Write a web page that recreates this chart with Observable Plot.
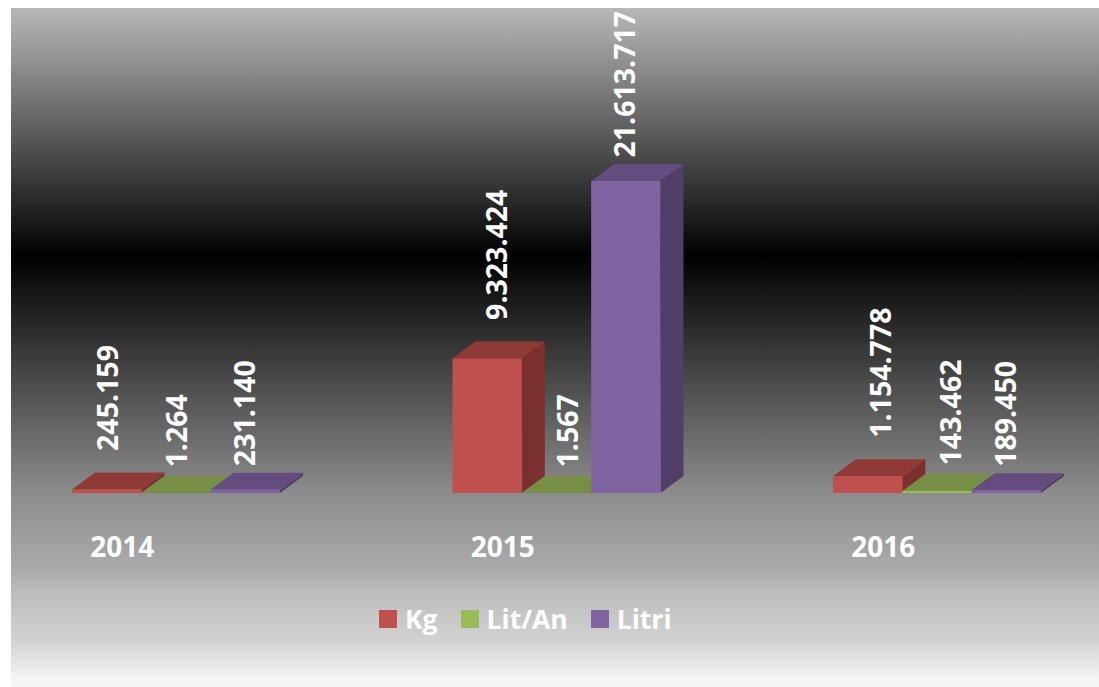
<!DOCTYPE html>
<html>
<head>
<meta charset="utf-8">
<script src="https://cdn.jsdelivr.net/npm/d3@7"></script>
<script src="https://cdn.jsdelivr.net/npm/@observablehq/plot@0.6"></script>
<style>
  html, body { margin: 0; padding: 0; background: #fff; }
  body { width: 1099px; height: 687px; overflow: hidden; position: relative; font-family: "Open Sans", sans-serif; }
  #panel {
    position: absolute; left: 11px; top: 8px; width: 1088px; height: 679px;
    background: linear-gradient(to bottom,
      #b8b8b8 0px, #4f4f4f 142px, #000000 248px, #2c2c2c 322px,
      #8c8c8c 485px, #ababab 562px, #bbbbbb 582px, #d2d2d2 632px, #f5f5f5 672px);
  }
  #chart { position: absolute; left: 0; top: 0; }
  #chart svg { display: block; background: transparent; }
  #legend {
    position: absolute; left: 379px; top: 600px; display: flex; gap: 23px; align-items: center;
    color: #fff; font-weight: 700; font-size: 26.5px; line-height: 38px;
  }
  #legend .item { display: flex; align-items: center; gap: 8px; }
  #legend .swatch { width: 18px; height: 18px; display: block; }
</style>
</head>
<body>
<div id="panel"></div>
<div id="chart"></div>
<div id="legend"></div>
<script>
const years = ["2014", "2015", "2016"];
const seriesNames = ["Kg", "Lit/An", "Litri"];
const kg = [245159, 9323424, 1154778];
const litAn = [1264, 1567, 143462];
const litri = [231140, 21613717, 189450];

const frontColors = ["#c0504d", "#9bbb59", "#8064a2"];
const topColors = ["#903a38", "#768f44", "#634d7e"];
const sideColors = ["#7b302e", "#5f7535", "#523f68"];

const seriesValues = [kg, litAn, litri];
const rows = seriesNames.flatMap((series, s) =>
  years.map((year, y) => ({year, series, value: seriesValues[s][y]}))
);

const locale = d3.formatLocale({decimal: ",", thousands: ".", grouping: [3], currency: ["", ""]});
const fmt = locale.format(",d");

const depthX = 23, depthY = 17;

function extrude(index, scales, values, dimensions, context, next) {
  const g = next(index, scales, values, dimensions, context);
  const rects = g.querySelectorAll("rect");
  const w = scales.x.bandwidth();
  Array.from(index).forEach((i, k) => {
    const x0 = values.x[i], x1 = x0 + w;
    const yTop = Math.min(values.y1[i], values.y2[i]);
    const yBase = Math.max(values.y1[i], values.y2[i]);
    const s = seriesNames.indexOf(rows[i].series);
    const add = (pts, fill) => {
      const p = document.createElementNS("http://www.w3.org/2000/svg", "polygon");
      p.setAttribute("points", pts.map(d => d.join(",")).join(" "));
      p.setAttribute("fill", fill);
      rects[k].parentNode.insertBefore(p, rects[k]);
    };
    add([[x1, yTop], [x1 + depthX, yTop - depthY], [x1 + depthX, yBase - depthY], [x1, yBase]], sideColors[s]);
    add([[x0, yTop], [x0 + depthX, yTop - depthY], [x1 + depthX, yTop - depthY], [x1, yTop]], topColors[s]);
  });
  return g;
}

// Data-label placement, as the original chart has it: a few labels were nudged sideways.
const labelDy = {"Kg": -39, "Lit/An": -26, "Litri": -24};
const labelDx = {"2014|Kg": 1.5, "2014|Lit/An": 1, "2015|Kg": 10, "2015|Lit/An": 12, "2016|Kg": 14, "2016|Lit/An": 14};

const labelMarks = rows.map(d => Plot.text([d], {
  fx: "year", x: "series", y: "value",
  text: r => fmt(r.value),
  rotate: -90, textAnchor: "start", lineAnchor: "middle",
  dx: labelDx[d.year + "|" + d.series] || 0,
  dy: labelDy[d.series],
  fill: "#fff", fontSize: 28.5, fontWeight: 700, fontFamily: "Open Sans"
}));

const chart = Plot.plot({
  width: 1099,
  height: 590,
  marginLeft: 0, marginRight: 0, marginTop: 0, marginBottom: 97,
  style: {background: "transparent", overflow: "visible"},
  fx: {domain: years, range: [-14, 1127.5], padding: 0, round: false, axis: null},
  x: {domain: seriesNames, range: [86, 294], padding: 0, round: false, axis: null},
  y: {domain: [0, 21613717], range: [493, 181], axis: null},
  color: {domain: seriesNames, range: frontColors},
  marks: [
    Plot.barY(rows, {fx: "year", x: "series", y: "value", fill: "series", render: extrude}),
    ...labelMarks,
    Plot.axisFx({
      anchor: "bottom", tickSize: 0, tickPadding: 44, dx: -54.5,
      fill: "#fff", fontSize: 28, fontWeight: 700, fontFamily: "Open Sans", label: null
    })
  ]
});
document.getElementById("chart").appendChild(chart);

const colorScale = chart.scale("color");
const legend = d3.select("#legend");
seriesNames.forEach(name => {
  const item = legend.append("div").attr("class", "item");
  item.append("span").attr("class", "swatch").style("background", colorScale.apply(name));
  item.append("span").text(name);
});
</script>
</body>
</html>
